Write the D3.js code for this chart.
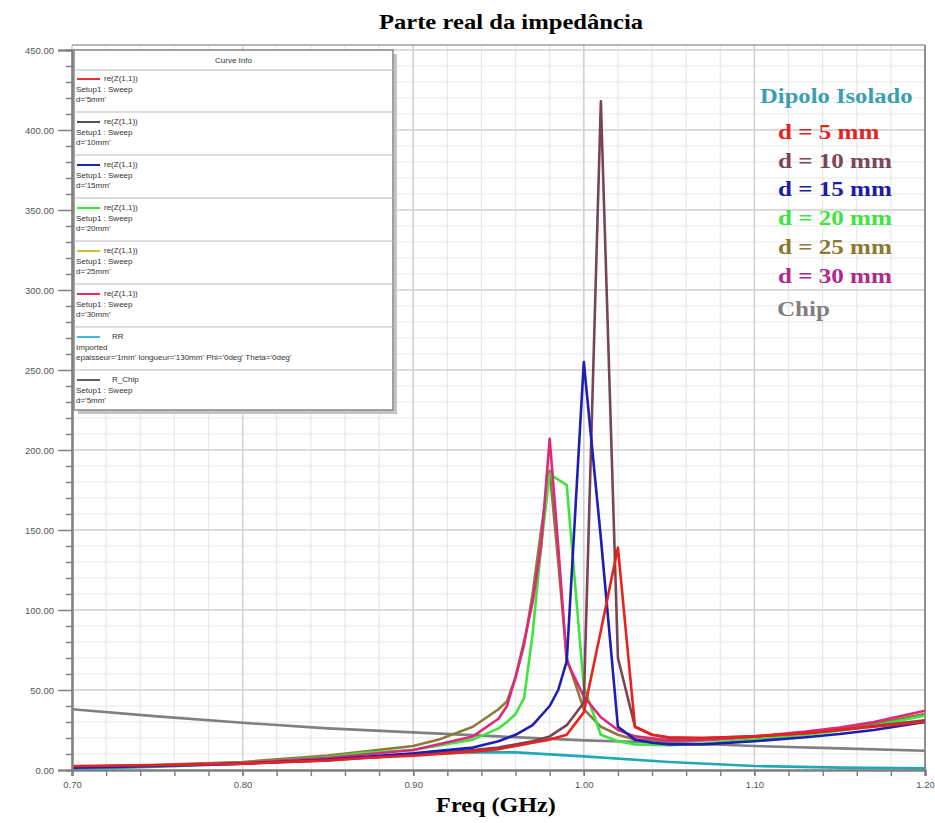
<!DOCTYPE html>
<html><head><meta charset="utf-8">
<script src="https://cdn.jsdelivr.net/npm/d3@7"></script>
<style>body{margin:0;background:#fff;}svg{display:block;}</style>
</head><body>
<script>
// ---- data ----
const freq5  = [0.70,0.75,0.80,0.85,0.87,0.90,0.935,0.95,0.96,0.97,0.98,0.99,1.00,1.01,1.02,1.03,1.04,1.05,1.07,1.10,1.13,1.15,1.17,1.20];
const re5    = [2.5,3,4,6,7.5,9,11.5,13,15,17,19,22,36,87,139,27,22,20.5,20,21,23,25,27,30];
const freq10 = [0.70,0.75,0.80,0.85,0.90,0.935,0.95,0.97,0.98,0.99,1.00,1.01,1.02,1.03,1.04,1.05,1.07,1.10,1.13,1.15,1.17,1.20];
const re10   = [2,2.8,4,6,9.5,12.5,14,18,21,28,42,418,70,27,22,20,20,21,23,25,27.5,31];
const freq15 = [0.70,0.75,0.80,0.85,0.90,0.935,0.95,0.96,0.97,0.98,0.985,0.99,1.00,1.01,1.02,1.03,1.04,1.05,1.07,1.10,1.13,1.15,1.17,1.20];
const re15   = [1.5,2.5,4,6.5,10.4,14,18,22,28,40,50,68,255,145,27,19,17,16,16,18,20.5,22.5,25,30];
const freq20 = [0.70,0.75,0.80,0.85,0.87,0.90,0.935,0.95,0.955,0.96,0.965,0.97,0.975,0.98,0.99,1.00,1.01,1.02,1.03,1.05,1.07,1.10,1.13,1.15,1.17,1.20];
const re20   = [1.8,3,4.5,8,10.6,12.5,19,26,30,35,45,85,140,185,178,52,22,18,16,15.5,16.5,19,22,24.5,27.5,34];
const freq25 = [0.70,0.75,0.80,0.85,0.90,0.915,0.935,0.95,0.955,0.96,0.965,0.97,0.975,0.98,0.985,0.99,1.00,1.01,1.02,1.03,1.05,1.07,1.10,1.13,1.15,1.17,1.20];
const re25   = [2,3.2,5,9,15,19,27,38,43,58,78,110,150,187,130,70,38,27,22,19,18,18.5,20.5,23.5,26,29,35];
const freq30 = [0.70,0.75,0.80,0.85,0.90,0.935,0.95,0.955,0.96,0.966,0.97,0.975,0.98,0.985,0.99,1.00,1.01,1.02,1.03,1.05,1.07,1.10,1.13,1.15,1.17,1.20];
const re30   = [1.8,3,4.5,7.5,12.5,21,32,40,58,85,105,140,207,140,68,46,33,25,21,18.5,19,21,24,26.5,30,37];
const freqRR = [0.70,0.75,0.80,0.85,0.90,0.93,0.96,1.00,1.05,1.10,1.15,1.20];
const reRR   = [0.5,2,4,6.5,9.5,11,11,8.5,5,2.5,1.5,1];
const freqChip = [0.70,0.75,0.80,0.85,0.90,0.95,1.00,1.05,1.10,1.15,1.20];
const reChip   = [38,33.5,29.5,26,23.5,21,18.5,17,15,13.5,12];

const xTickValues = [0.70,0.80,0.90,1.00,1.10,1.20];
const xTickLabels = ["0.70","0.80","0.90","1.00","1.10","1.20"];
const yTickValues = [0,50,100,150,200,250,300,350,400,450];
const yTickLabels = ["0.00","50.00","100.00","150.00","200.00","250.00","300.00","350.00","400.00","450.00"];

const title = "Parte real da impedância";
const xTitle = "Freq (GHz)";
const rightLegendTitle = "Dipolo Isolado";
const rightLegendLabels = ["d = 5 mm","d = 10 mm","d = 15 mm","d = 20 mm","d = 25 mm","d = 30 mm","Chip"];
const rightLegendColors = ["#e3241f","#7b4656","#1c1ca6","#3fe43f","#8b7a2e","#b02a8c","#7f7f7f"];

const curveInfoLine1 = ["re(Z(1,1))","re(Z(1,1))","re(Z(1,1))","re(Z(1,1))","re(Z(1,1))","re(Z(1,1))","RR","R_Chip"];
const curveInfoLine2 = ["Setup1 : Sweep","Setup1 : Sweep","Setup1 : Sweep","Setup1 : Sweep","Setup1 : Sweep","Setup1 : Sweep","Imported","Setup1 : Sweep"];
const curveInfoLine3 = ["d='5mm'","d='10mm'","d='15mm'","d='20mm'","d='25mm'","d='30mm'","epaisseur='1mm' longueur='130mm' Phi='0deg' Theta='0deg'","d='5mm'"];
const curveInfoColors = ["#e8303a","#555050","#2020c0","#40e040","#c8c040","#e03060","#40b8e0","#606060"];

// ---- layout ----
const W = 935, H = 823;
const L = 72, R = 925, T = 50, B = 770;
const serif = "'Liberation Serif', 'Times New Roman', serif";
const sans = "Arial, 'Liberation Sans', sans-serif";
const svg = d3.select("body").append("svg").attr("width", W).attr("height", H);
const x = d3.scaleLinear().domain([0.70, 1.20]).range([L, R]);
const y = d3.scaleLinear().domain([0, 450]).range([B, T]);

// grid
const g = svg.append("g");
const minorX = d3.range(0.70, 1.2001, 0.02);
const minorY = d3.range(0, 450.01, 10);
g.selectAll(".mx").data(minorX).enter().append("line")
  .attr("x1", d => x(d)).attr("x2", d => x(d)).attr("y1", 45).attr("y2", B)
  .attr("stroke", "#e8e8e8").attr("stroke-width", 1.2);
g.selectAll(".my").data(minorY).enter().append("line")
  .attr("y1", d => y(d)).attr("y2", d => y(d)).attr("x1", L).attr("x2", R)
  .attr("stroke", "#e8e8e8").attr("stroke-width", 1.2);
g.selectAll(".Mx").data(xTickValues).enter().append("line")
  .attr("x1", d => x(d)).attr("x2", d => x(d)).attr("y1", 45).attr("y2", B)
  .attr("stroke", "#cfcfcf").attr("stroke-width", 1.4);
g.selectAll(".My").data(yTickValues).enter().append("line")
  .attr("y1", d => y(d)).attr("y2", d => y(d)).attr("x1", L).attr("x2", R)
  .attr("stroke", "#d4d4d4").attr("stroke-width", 1.6);

// frame
svg.append("line").attr("x1", L).attr("x2", R).attr("y1", 45).attr("y2", 45).attr("stroke", "#a0a0a0").attr("stroke-width", 1.5);
svg.append("line").attr("x1", R).attr("x2", R).attr("y1", 45).attr("y2", B).attr("stroke", "#909090").attr("stroke-width", 2);

// curves
const line = d3.line().x(d => x(d[0])).y(d => y(d[1]));
const series = [
  {f: freqChip, v: reChip, c: "#808080"},
  {f: freqRR, v: reRR, c: "#1fa9b8"},
  {f: freq25, v: re25, c: "#8c7a3c"},
  {f: freq20, v: re20, c: "#3ee43e"},
  {f: freq30, v: re30, c: "#e0287a"},
  {f: freq10, v: re10, c: "#7a4553"},
  {f: freq15, v: re15, c: "#1e1eb4"},
  {f: freq5,  v: re5,  c: "#e8221e"}
];
series.forEach(s => {
  svg.append("path").datum(s.f.map((f, i) => [f, s.v[i]]))
    .attr("d", line).attr("fill", "none").attr("stroke", s.c)
    .attr("stroke-width", 2.6).attr("stroke-linejoin", "round");
});

// axes
const yAxis = svg.append("g").attr("transform", `translate(${L},0)`)
  .call(d3.axisLeft(y).tickValues(yTickValues).tickFormat((d, i) => yTickLabels[i]).tickSize(14).tickPadding(4));
yAxis.append("g").call(d3.axisLeft(y).tickValues(minorY.filter(v => v % 50 !== 0)).tickFormat("").tickSize(6));
const xAxis = svg.append("g").attr("transform", `translate(0,${B})`)
  .call(d3.axisBottom(x).tickValues(xTickValues).tickFormat((d, i) => xTickLabels[i]).tickSize(6).tickPadding(5));
xAxis.append("g").call(d3.axisBottom(x).tickValues(minorX).tickFormat("").tickSize(6));
svg.selectAll(".domain").attr("stroke", "#808080").attr("stroke-width", 2);
svg.selectAll(".tick line").attr("stroke", "#808080").attr("stroke-width", 1.5);
svg.selectAll(".tick text").attr("font-family", sans).attr("font-size", 9.5).attr("fill", "#555");

// helper for horizontally stretched serif text
function stretched(parent, tx, ty, txt, size, color, anchor, sx) {
  return parent.append("text")
    .attr("transform", `translate(${tx},${ty}) scale(${sx},1)`)
    .attr("text-anchor", anchor)
    .attr("font-family", serif).attr("font-weight", "bold").attr("font-size", size)
    .attr("fill", color).text(txt);
}

// titles
stretched(svg, 511, 29, title, 22, "#000", "middle", 1.12);
stretched(svg, 496, 812, xTitle, 22, "#000", "middle", 1.1);

// right legend
stretched(svg, 760, 103, rightLegendTitle, 22, "#3a9fb3", "start", 1.12);
rightLegendLabels.forEach((t, i) => {
  stretched(svg, i === 6 ? 777 : 778, i === 6 ? 316 : 139 + i * 28.7, t, 22, rightLegendColors[i], "start", 1.14);
});

// curve info box
const bx = 74, by = 50, bw = 319, bh = 360;
const box = svg.append("g");
box.append("rect").attr("x", bx + 4).attr("y", by + 4).attr("width", bw).attr("height", bh).attr("fill", "#c4c4c4");
box.append("rect").attr("x", bx).attr("y", by).attr("width", bw).attr("height", bh).attr("fill", "#fff").attr("stroke", "#888").attr("stroke-width", 1.5);
box.append("text").attr("x", bx + bw / 2).attr("y", by + 13).attr("text-anchor", "middle")
  .attr("font-family", sans).attr("font-size", 8).attr("fill", "#333").text("Curve Info");
box.append("line").attr("x1", bx).attr("x2", bx + bw).attr("y1", by + 20).attr("y2", by + 20).attr("stroke", "#bbb");
curveInfoLine1.forEach((t, i) => {
  const ey = by + 21 + i * 43;
  const ft = box.append("g").attr("font-family", sans).attr("font-size", 8).attr("fill", "#333");
  ft.append("line").attr("x1", bx + 3).attr("x2", bx + 26).attr("y1", ey + 8).attr("y2", ey + 8).attr("stroke", curveInfoColors[i]).attr("stroke-width", 2);
  ft.append("text").attr("x", i >= 6 ? bx + 38 : bx + 30).attr("y", ey + 10).text(t);
  ft.append("text").attr("x", bx + 2).attr("y", ey + 21).text(curveInfoLine2[i]);
  ft.append("text").attr("x", bx + 2).attr("y", ey + 31).text(curveInfoLine3[i]);
  if (i < 7) box.append("line").attr("x1", bx).attr("x2", bx + bw).attr("y1", ey + 41).attr("y2", ey + 41).attr("stroke", "#bbb");
});
</script>
</body></html>
